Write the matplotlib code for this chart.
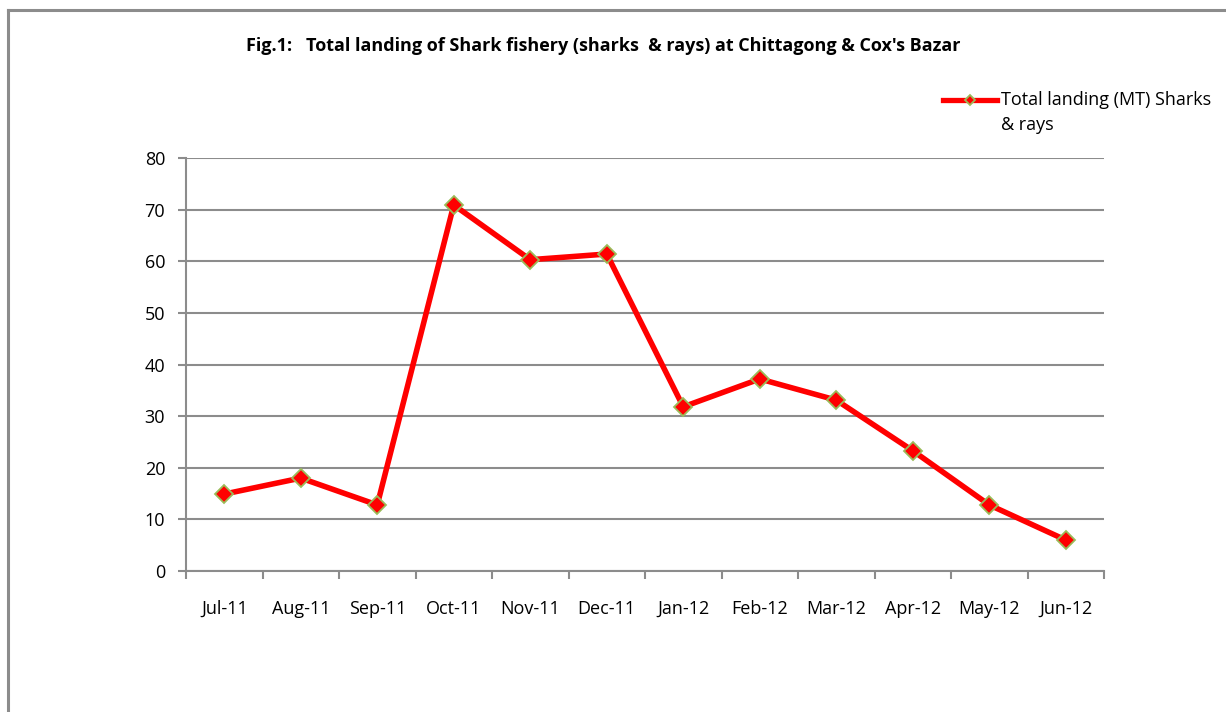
import matplotlib
matplotlib.use("Agg")
import matplotlib.pyplot as plt
from matplotlib.lines import Line2D

months = ["Jul-11", "Aug-11", "Sep-11", "Oct-11", "Nov-11", "Dec-11",
          "Jan-12", "Feb-12", "Mar-12", "Apr-12", "May-12", "Jun-12"]
landing = [14.9, 18.0, 12.8, 70.9, 60.3, 61.4, 31.8, 37.2, 33.1, 23.3, 12.8, 6.0]
yticks = [0, 10, 20, 30, 40, 50, 60, 70, 80]
title = "Fig.1:   Total landing of Shark fishery (sharks  & rays) at Chittagong & Cox's Bazar"
series_label_1 = "Total landing (MT) Sharks"
series_label_2 = "& rays"

plt.rcParams['font.family'] = ['Open Sans', 'DejaVu Sans']
W, H = 1226, 712
fs = 13
fig = plt.figure(figsize=(W / 100, H / 100), dpi=100)
ax = fig.add_axes([186 / W, 1 - 571 / H, (1104 - 186) / W, (571 - 158) / H])

grid_c = "#8c8c8c"
red = "#ff0000"
edge = "#9bbb59"
x = list(range(len(months)))
line, = ax.plot(x, landing, color=red, lw=4.0, marker="D", markersize=9.5,
                markerfacecolor=red, markeredgecolor=edge, markeredgewidth=1.3,
                zorder=3, solid_joinstyle="miter")

ax.set_xlim(-0.5, len(months) - 0.5)
ax.set_ylim(0, 80)
ax.set_yticks(yticks)
ax.set_yticklabels([str(v) for v in yticks])
ax.set_xticks(x)
ax.set_xticklabels(months)
ax.set_xticks([i - 0.5 for i in range(len(months) + 1)], minor=True)
ax.tick_params(axis="x", which="major", length=0, pad=21, labelsize=fs, colors="black")
ax.tick_params(axis="x", which="minor", length=6, width=1.5, color=grid_c, direction="out")
ax.tick_params(axis="y", length=6, width=1.5, color=grid_c, labelsize=fs, pad=9)
for lab in ax.get_xticklabels() + ax.get_yticklabels():
    lab.set_color("black")

ax.grid(axis="y", color=grid_c, lw=1.5)
ax.set_axisbelow(True)
for s in ["top", "right"]:
    ax.spines[s].set_visible(False)
for s in ["left", "bottom"]:
    ax.spines[s].set_color(grid_c)
    ax.spines[s].set_linewidth(1.5)

fig.text(603 / W, 1 - 46 / H, title, ha="center", va="center", fontsize=fs, fontweight="bold")

# legend: handle + two-line label
fig.add_artist(Line2D([943 / W, 997 / W], [1 - 100 / H, 1 - 100 / H], color=red, lw=3.8,
                      transform=fig.transFigure))
fig.add_artist(Line2D([970 / W], [1 - 100 / H], marker="D", markersize=5, markerfacecolor=red,
                      markeredgecolor=edge, markeredgewidth=1.3, linestyle="none",
                      transform=fig.transFigure))
fig.text(1001 / W, 1 - 100 / H, series_label_1, ha="left", va="center", fontsize=fs)
fig.text(1001 / W, 1 - 125 / H, series_label_2, ha="left", va="center", fontsize=fs)

# outer chart border
fig.add_artist(Line2D([8 / W, 8 / W], [0, 1 - 10 / H], color="#8c8c8c", lw=2.2, transform=fig.transFigure))
fig.add_artist(Line2D([8 / W, 1], [1 - 10 / H, 1 - 10 / H], color="#8c8c8c", lw=2.2, transform=fig.transFigure))

fig.savefig("out.png", dpi=100)
